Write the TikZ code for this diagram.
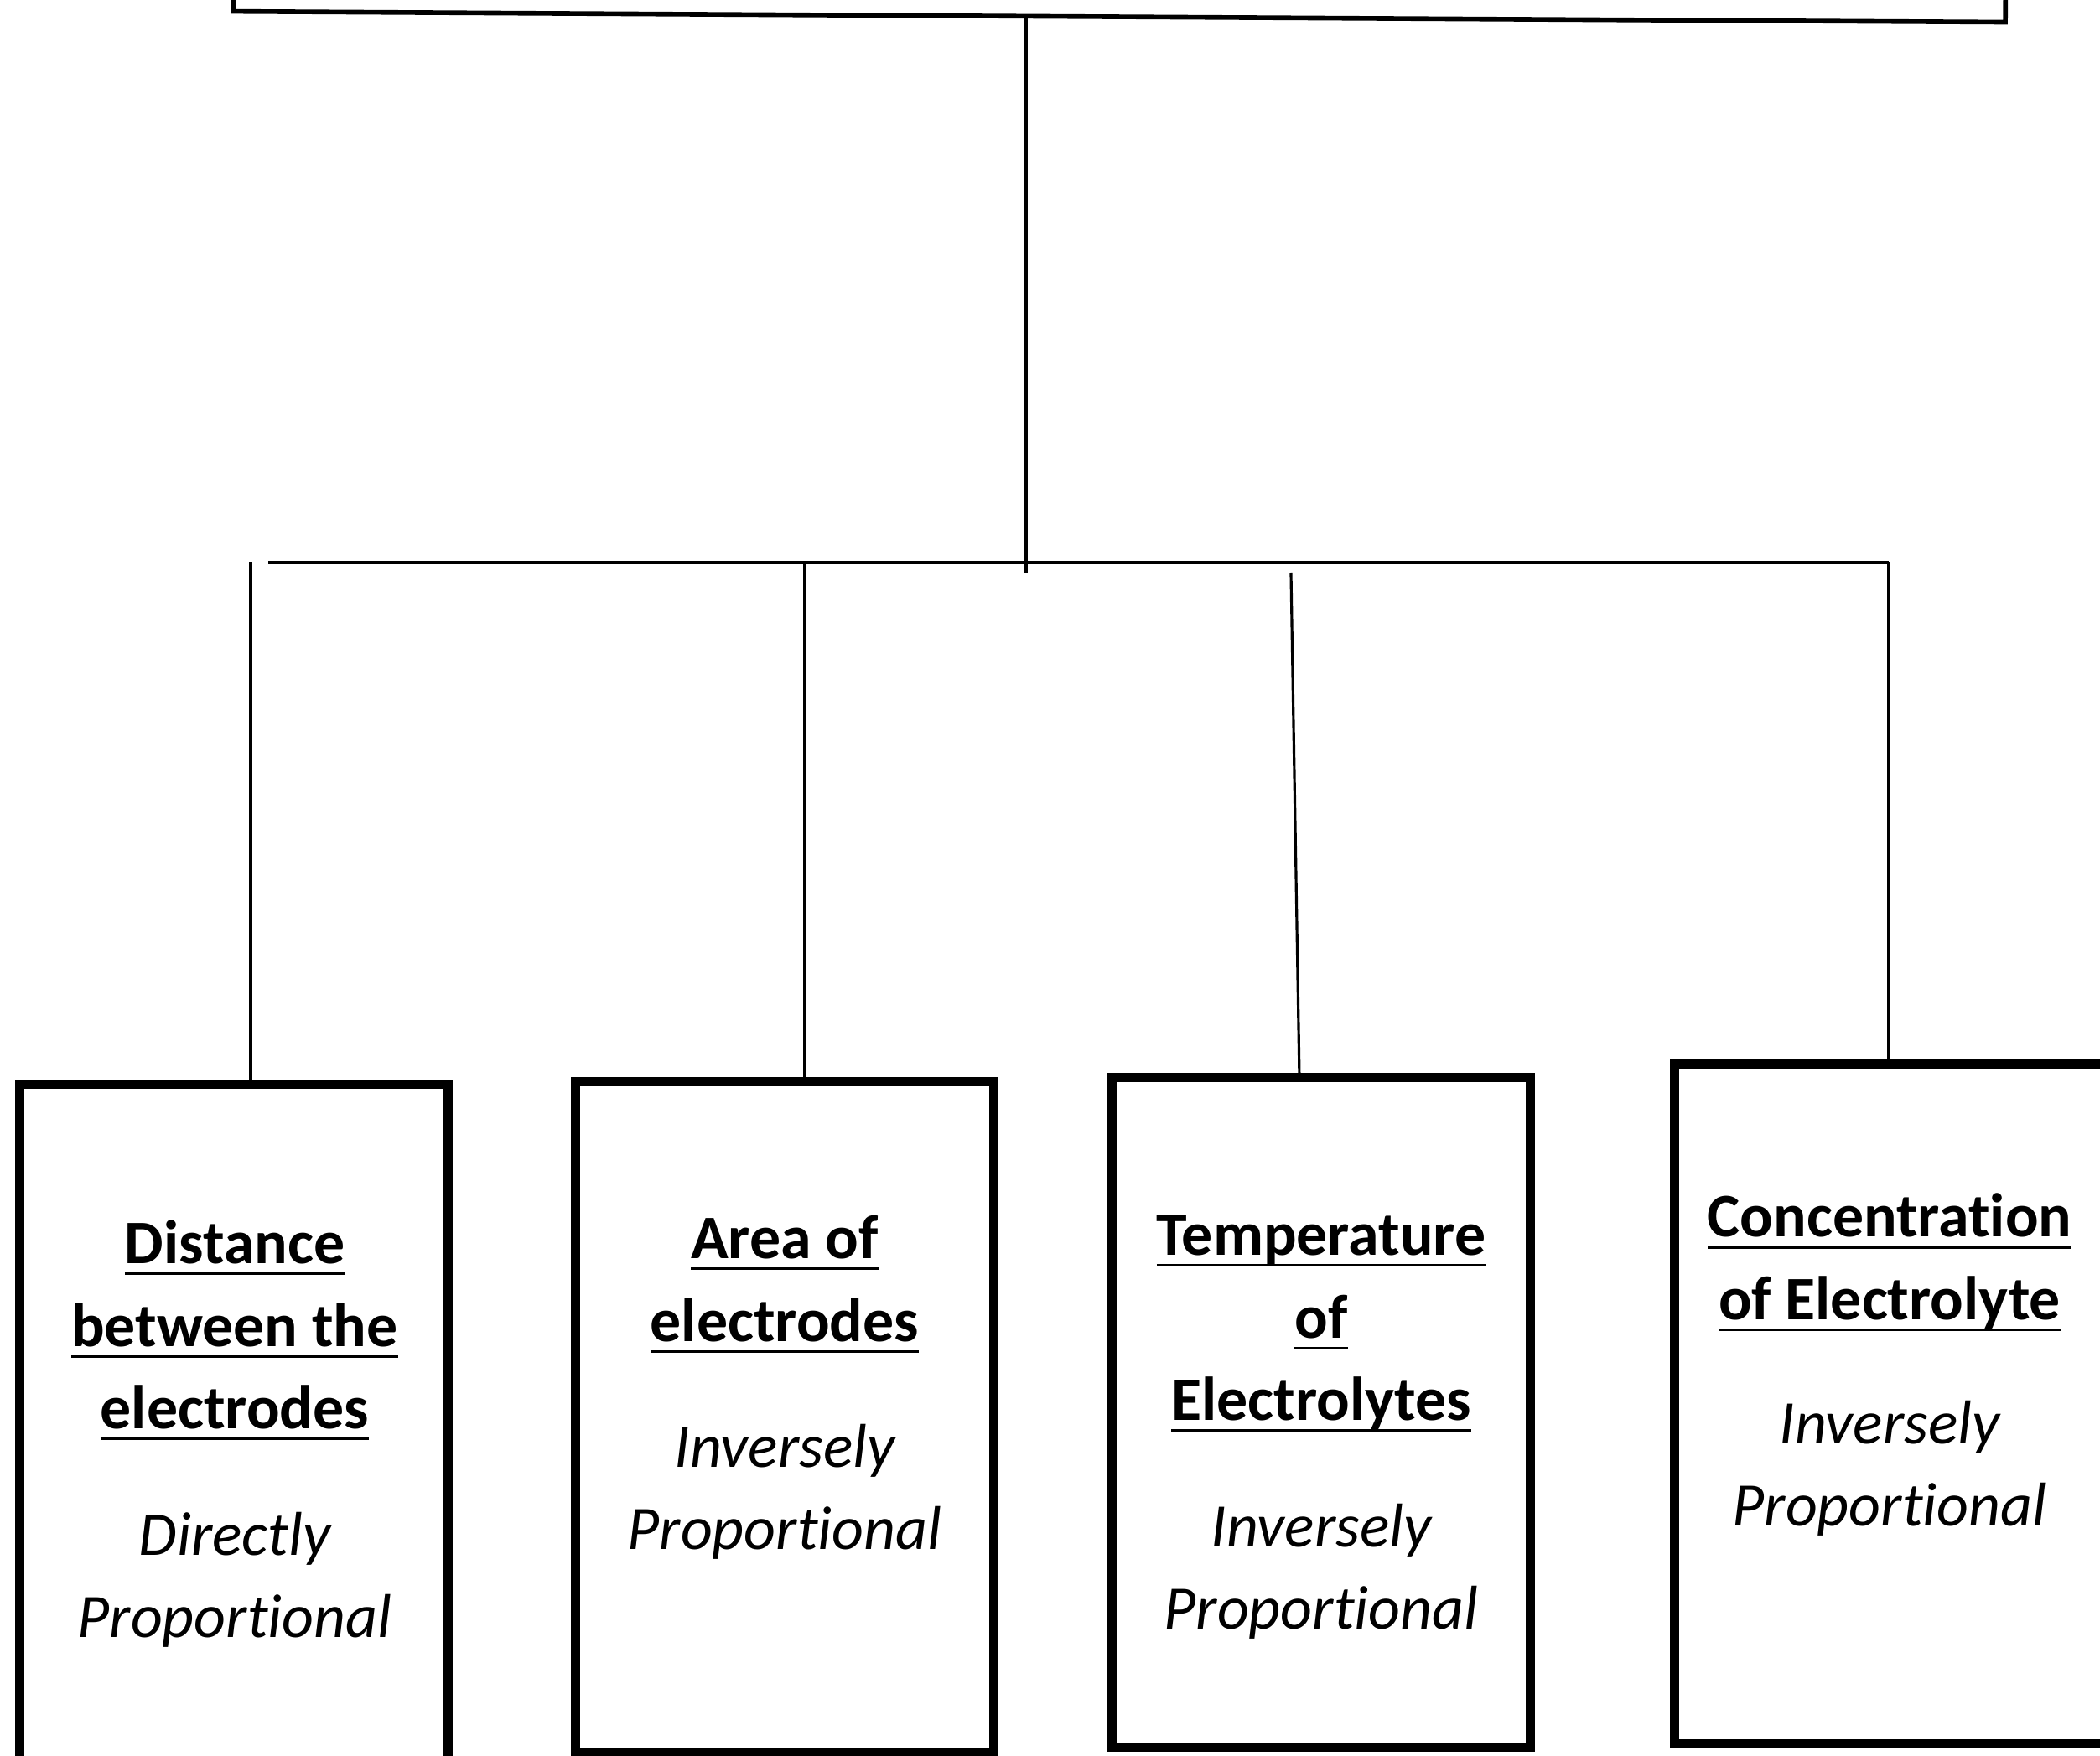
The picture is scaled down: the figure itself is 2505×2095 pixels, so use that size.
\documentclass[tikz,border=0pt]{standalone}
\usepackage{fontspec}
\setmainfont{Carlito}[Ligatures={NoCommon}]
\newcommand\myul[1]{\setbox0\hbox{#1}\rlap{\rule[-3.9pt]{\wd0}{0.9pt}}\box0}
\usetikzlibrary{calc}
\tikzset{
  factorbox/.style={draw, line width=3.1pt, rectangle, inner sep=0pt, outer sep=0pt},
  headbox/.style={draw, line width=1.6pt, rectangle, inner sep=0pt, outer sep=0pt},
  title/.style={align=center, inner sep=0pt, font=\fontsize{21}{28}\selectfont\bfseries},
  relation/.style={align=center, inner sep=0pt, font=\fontsize{21}{28}\selectfont\itshape},
  link/.style={line width=0.9pt},
  bar/.style={line width=1.3pt}
}
\begin{document}
\begin{tikzpicture}[x=0.01cm, y=-0.01cm]
\useasboundingbox (0,0) rectangle (2505,2095);
\clip (0,0) rectangle (2505,2095);
% top box (cut off)
\node[headbox, minimum width=21.13cm, minimum height=3cm, rotate=-0.35] (top) at (1336,-130) {};
% factor boxes
\node[factorbox, minimum width=5.10cm, minimum height=8.16cm] (b1) at (279,1702) {};
\node[factorbox, minimum width=4.98cm, minimum height=8.00cm] (b2) at (936,1691) {};
\node[factorbox, minimum width=4.99cm, minimum height=7.99cm] (b3) at (1576,1685) {};
\node[factorbox, minimum width=5.16cm, minimum height=8.11cm] (b4) at (2256,1675) {};
% texts
\node[title] (h1) at (280,1587) {\myul{Distance}\\\myul{between the}\\\myul{electrodes}};
\node[relation] (r1) at (280,1885) {Directly\\Proportional};
\node[title] (h2) at (936,1532) {\myul{Area of}\\\myul{electrodes}};
\node[relation] (r2) at (936,1780) {Inversely\\Proportional};
\node[title] (h3) at (1576,1579) {\myul{Temperature}\\\myul{of}\\\myul{Electrolytes}};
\node[relation] (r3) at (1576,1875) {Inversely\\Proportional};
\node[title] (h4) at (2254,1506) {\myul{Concentration}\\\myul{of Electrolyte}};
\node[relation] (r4) at (2254,1752) {Inversely\\Proportional};
% connectors
\coordinate (hub) at (1224,684);
\coordinate (barL) at (320,671);
\coordinate (barR) at (2253,671);
\coordinate (t1) at (299,671);
\coordinate (t2) at (960,671);
\coordinate (t3) at (1540,684);
\draw[link] (hub |- top.south) -- (hub);
\draw[bar] (barL) -- (barR);
\draw[link] (barR) -- (barR |- b4.north);
\draw[link] (t1) -- (t1 |- b1.north);
\draw[link] (t2) -- (t2 |- b2.north);
\draw[link] (t3) -- ($(b3.north)+(-26,0)$);
\end{tikzpicture}
\end{document}
